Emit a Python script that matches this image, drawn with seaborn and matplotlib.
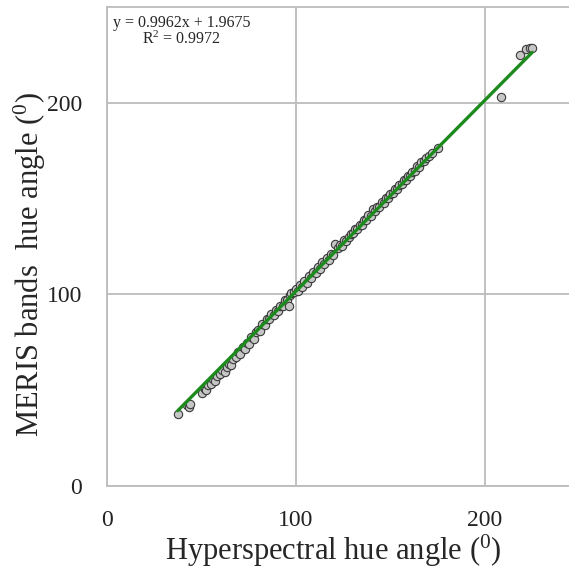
import matplotlib
matplotlib.use("Agg")
import matplotlib.pyplot as plt
import numpy as np
import pandas as pd
import seaborn as sns
from matplotlib.ticker import MultipleLocator

# hue angles (degrees)
hyper = [37.5, 42.4, 43.2, 44.0, 50.5, 51.8, 52.6, 53.5, 55.0, 56.2, 57.4, 58.5,
         59.8, 61.0, 62.3, 63.5, 64.6, 65.9, 67.0, 68.2, 69.5, 70.6, 71.8, 73.0,
         74.1, 75.3, 76.5, 77.6, 78.8, 80.0, 81.2, 82.3, 83.5, 84.8, 86.0, 87.1,
         88.3, 89.5, 90.6, 91.8, 93.0, 94.2, 95.3, 96.5, 97.0, 97.7, 98.8, 100.0,
         101.2, 102.3, 103.5, 104.6, 105.8, 107.0, 108.1, 109.3, 110.5, 111.6,
         112.8, 114.0, 115.1, 116.3, 117.5, 118.6, 119.8, 121.0, 122.1, 123.3,
         124.5, 125.6, 126.8, 128.0, 129.1, 130.3, 131.5, 132.6, 133.8, 135.0,
         136.1, 137.3, 138.5, 139.6, 140.8, 142.0, 143.1, 144.3, 145.5, 146.6,
         147.8, 149.0, 150.1, 151.3, 152.5, 153.6, 154.8, 156.0, 157.1, 158.3,
         159.5, 160.6, 161.8, 163.0, 164.2, 165.4, 166.5, 167.8, 169.0, 170.3,
         172.0, 175.5, 208.5, 218.5, 222.0, 223.8, 225.2]
meris = [37.8, 42.5, 41.0, 42.8, 48.6, 50.5, 49.9, 52.6, 53.1, 55.9, 54.8, 57.6,
         58.2, 60.4, 59.7, 62.1, 63.8, 63.2, 66.5, 67.1, 69.9, 69.0, 72.4, 71.6,
         74.8, 74.0, 77.9, 76.8, 80.2, 81.6, 80.7, 84.5, 84.0, 87.2, 86.9, 89.8,
         89.0, 91.6, 91.2, 94.0, 93.8, 96.9, 97.0, 94.0, 99.6, 100.8, 101.5, 102.9,
         101.6, 104.8, 103.9, 106.8, 106.2, 109.5, 108.7, 111.9, 111.0, 114.2,
         113.5, 116.7, 115.8, 118.9, 118.0, 121.2, 120.6, 126.5, 124.0, 125.6,
         125.2, 128.4, 127.9, 130.1, 131.7, 131.9, 134.0, 133.9, 136.4, 136.2,
         138.8, 138.6, 141.2, 140.9, 144.6, 143.5, 145.4, 145.6, 148.0, 147.9,
         150.3, 150.2, 152.6, 153.1, 154.9, 155.0, 157.3, 157.4, 159.6, 159.8,
         162.0, 161.9, 164.1, 164.5, 166.8, 166.7, 168.9, 169.4, 171.2, 172.1,
         173.8, 176.4, 203.0, 225.0, 228.0, 228.6, 228.8]

# linear trendline reported on the chart
slope = 0.9962
intercept = 1.9675
r2 = 0.9972

sns.set_style("white")
plt.rcParams["font.family"] = ["Liberation Serif", "DejaVu Serif"]
plt.rcParams["mathtext.fontset"] = "custom"
plt.rcParams["mathtext.rm"] = "Liberation Serif"
plt.rcParams["mathtext.it"] = "Liberation Serif"

df = pd.DataFrame({"hyper": hyper, "meris": meris})
xs = np.array([min(hyper), max(hyper)])
fit = pd.DataFrame({"x": xs, "y": slope * xs + intercept})

grey = "#bcbcbc"
fig = plt.figure(figsize=(5.69, 5.68), dpi=100)
ax = fig.add_axes([107 / 569, 82 / 568, 472 / 569, 479 / 568])

sns.scatterplot(data=df, x="hyper", y="meris", ax=ax, s=36, color="#c6c6c6",
                edgecolor="#3a3a3a", linewidth=0.8, zorder=3, legend=False)
sns.lineplot(data=fit, x="x", y="y", ax=ax, color="#1c8a1c", linewidth=2.4,
             zorder=4, legend=False)

ax.set_xlim(0, 250)
ax.set_ylim(0, 250)
ax.xaxis.set_major_locator(MultipleLocator(100))
ax.yaxis.set_major_locator(MultipleLocator(100))
ax.xaxis.set_minor_locator(MultipleLocator(25))
ax.yaxis.set_minor_locator(MultipleLocator(25))
ax.grid(True, which="major", color=grey, linewidth=1.3)
ax.tick_params(which="both", direction="in", length=5, width=1, color=grey,
               labelsize=17, labelcolor="#222222")
ax.tick_params(axis="x", pad=17)
ax.tick_params(axis="y", pad=18)
for side in ["left", "bottom", "top"]:
    ax.spines[side].set_color(grey)
    ax.spines[side].set_linewidth(1.3)
ax.spines["right"].set_visible(False)

ax.set_xlabel("Hyperspectral hue angle ($^{0}$)", fontsize=22)
ax.set_ylabel("MERIS bands  hue angle ($^{0}$)", fontsize=22)
ax.xaxis.set_label_coords(0.479, -0.097)
ax.yaxis.set_label_coords(-0.125, 0.463)

ax.text(0.012, 0.983, f"y = {slope}x + {intercept}", transform=ax.transAxes,
        fontsize=11.5, ha="left", va="top")
ax.text(0.157, 0.95, f"R$^2$ = {r2}", transform=ax.transAxes,
        fontsize=11.5, ha="center", va="top")

fig.savefig("out.png", dpi=100)
